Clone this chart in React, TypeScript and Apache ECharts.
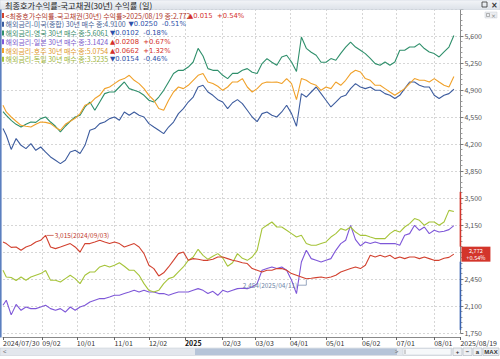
import React, { useEffect, useRef } from "react";
import * as echarts from "echarts";

// ---------- data ----------
const FIRST_DAY = "2024-07-30";
const TRADING_DAYS = 276; // weekdays 2024/07/30 .. 2025/08/19
const AXIS_PAD_DAYS = 4;
const SAMPLE_STEP = 3;

const TICK_DATES = [
  "2024/07/30", "2024/09/02", "2024/10/01", "2024/11/01", "2024/12/02", "2025/01/01",
  "2025/02/03", "2025/03/03", "2025/04/01", "2025/05/01", "2025/06/02", "2025/07/01", "2025/08/01",
];
const TICK_TEXTS = [
  "2024/07/30", "09/02", "10/01", "11/01", "12/02", "2025",
  "02/03", "03/03", "04/01", "05/01", "06/02", "07/01", "08/01",
];
const END_LABEL = "2025/08/19";
// right-axis labels (2,800 is covered by the last-value tag in the reference)
const Y_LABELS = [1750, 2100, 2450, 3150, 3500, 3850, 4200, 4550, 4900, 5250, 5600];

const TITLE = "최종호가수익률-국고채권(30년) 수익률 (일)";
const SERIES_NAMES = ["국고채권(30년)", "미국(종합) 30년", "영국 30년", "일본 30년", "호주 30년", "독일 30년"];
const LEGEND_TEXTS = [
  "<최종호가수익률-국고채권(30년) 수익률>2025/08/19 종:2.772",
  "해외금리-미국(종합) 30년 매수 종:4.9100",
  "해외금리-영국 30년 매수 종:5.6061",
  "해외금리-일본 30년 매수 종:3.1424",
  "해외금리-호주 30년 매수 종:5.0754",
  "해외금리-독일 30년 매수 종:3.3235",
];
const CHANGE_TEXTS = ["▲0.015  +0.54%", "▼0.0250  -0.51%", "▼0.0102  -0.18%", "▲0.0208  +0.67%", "▲0.0662  +1.32%", "▼0.0154  -0.46%"];
const LAST_VALUE = 2772;
const LAST_CHANGE = "+0.54%";
const PEAK_NOTE = "3,015(2024/09/03)";
const LOW_NOTE = "2,454(2025/04/11)";

// values (x1000) sampled every 3 weekdays
const KR = [
  2930, 2909, 2860, 2865, 2822, 2865, 2887, 2930, 2952, 3015,
  2865, 2844, 2865, 2887, 2909, 2865, 2800, 2909, 2909, 2930,
  2952, 2930, 2909, 2930, 2909, 2865, 2887, 2909, 2865, 2779,
  2628, 2585, 2490, 2530, 2606, 2692, 2779, 2800, 2692, 2714,
  2705, 2692, 2692, 2705, 2735, 2735, 2714, 2692, 2680, 2660,
  2650, 2585, 2563, 2541, 2563, 2563, 2585, 2585, 2563, 2520,
  2498, 2476, 2454, 2460, 2468, 2476, 2462, 2476, 2498, 2541,
  2563, 2585, 2606, 2585, 2628, 2757, 2735, 2757, 2735, 2757,
  2714, 2735, 2714, 2735, 2735, 2714, 2735, 2714, 2692, 2692,
  2718, 2730, 2772,
];
const US = [
  4400, 4313, 4130, 4270, 4183, 4140, 4205, 4118, 4161, 4096,
  4032, 3989, 3946, 3989, 4096, 4118, 4076, 4183, 4378, 4400,
  4464, 4485, 4529, 4550, 4507, 4615, 4572, 4615, 4572, 4550,
  4464, 4420, 4378, 4335, 4420, 4485, 4594, 4659, 4744, 4809,
  4939, 4961, 4874, 4831, 4775, 4744, 4659, 4735, 4775, 4724,
  4637, 4550, 4490, 4594, 4615, 4572, 4550, 4615, 4702, 4594,
  4430, 4853, 4809, 4874, 4939, 4853, 4767, 4680, 4744, 4809,
  4831, 4918, 4983, 4939, 4918, 4939, 4896, 4896, 4853, 4831,
  4789, 4831, 4918, 5004, 5004, 4961, 4939, 4939, 4831, 4789,
  4831, 4853, 4910,
];
const UK = [
  4620, 4572, 4507, 4455, 4420, 4455, 4485, 4480, 4529, 4550,
  4485, 4430, 4356, 4430, 4495, 4550, 4572, 4680, 4744, 4637,
  4744, 4853, 4874, 4874, 4939, 5004, 4918, 4896, 4874, 4831,
  4767, 4744, 4809, 4896, 5004, 5113, 5155, 5155, 5198, 5263,
  5440, 5340, 5177, 5155, 5155, 5091, 5048, 5115, 5115, 5155,
  5177, 5130, 5113, 5242, 5307, 5260, 5220, 5328, 5350, 5263,
  5140, 5587, 5440, 5390, 5350, 5260, 5260, 5307, 5285, 5375,
  5455, 5522, 5457, 5415, 5372, 5310, 5242, 5220, 5263, 5220,
  5263, 5415, 5415, 5457, 5457, 5501, 5437, 5393, 5372, 5328,
  5393, 5457, 5606,
];
const JP = [
  2109, 2174, 1985, 2120, 2044, 2087, 2066, 2066, 2087, 2109,
  2066, 2044, 2066, 2022, 2087, 2044, 2087, 2109, 2152, 2174,
  2196, 2196, 2217, 2239, 2239, 2261, 2281, 2303, 2281, 2303,
  2281, 2281, 2261, 2261, 2239, 2261, 2281, 2281, 2281, 2303,
  2325, 2303, 2261, 2290, 2239, 2303, 2281, 2303, 2325, 2330,
  2325, 2346, 2390, 2563, 2585, 2606, 2585, 2606, 2563, 2433,
  2261, 2670, 2822, 2714, 2692, 2670, 2692, 2714, 2822, 2909,
  2952, 3146, 2960, 2880, 2930, 2909, 2930, 2909, 2909, 2909,
  2909, 2887, 3016, 3038, 3146, 3081, 3124, 3038, 3081, 3059,
  3070, 3090, 3142,
];
const AU = [
  4702, 4615, 4550, 4495, 4442, 4430, 4420, 4455, 4485, 4480,
  4464, 4415, 4378, 4455, 4495, 4533, 4594, 4702, 4724, 4789,
  4831, 4918, 4939, 4983, 5026, 5048, 5091, 5026, 4983, 4918,
  4831, 4767, 4659, 4637, 4767, 4874, 4939, 4918, 4961, 5026,
  5091, 5113, 5004, 4983, 4948, 4896, 4939, 5004, 5004, 5048,
  4939, 4874, 4918, 4983, 5004, 5000, 5004, 4983, 5048, 4983,
  4775, 5048, 5026, 4983, 4961, 4896, 4939, 4918, 5004, 4961,
  5026, 5113, 5155, 5133, 5048, 5026, 4961, 4961, 4918, 4874,
  4831, 4874, 4918, 4983, 5048, 5026, 5026, 5004, 5048, 5004,
  4961, 4939, 5075,
];
const DE = [
  2563, 2476, 2470, 2430, 2476, 2433, 2476, 2498, 2520, 2560,
  2433, 2433, 2411, 2455, 2498, 2455, 2390, 2498, 2541, 2541,
  2606, 2628, 2606, 2628, 2660, 2615, 2563, 2563, 2498, 2390,
  2303, 2281, 2303, 2390, 2455, 2476, 2541, 2606, 2692, 2735,
  2835, 2757, 2705, 2745, 2779, 2725, 2615, 2660, 2779, 2718,
  2692, 2735, 2822, 3103, 3146, 3189, 3124, 3124, 3081, 3038,
  2994, 3016, 2909, 2887, 2887, 2909, 2930, 2994, 3038, 3103,
  3081, 3124, 3059, 3016, 3016, 2994, 2974, 2974, 2974, 3038,
  3081, 3059, 3124, 3168, 3233, 3211, 3146, 3189, 3189, 3146,
  3189, 3340, 3324,
];

// ---------- styles ----------
const COLORS = ["#d2412f", "#3d5c9e", "#2f8f6b", "#7e57d8", "#f0a12a", "#a6c43a"];
const TEXT_COLORS = ["#b0392e", "#4a6396", "#3b8c6d", "#7c5ccc", "#e0992e", "#9db438"];
const CHANGE_X = [188, 128.5, 110, 110, 110, 110];
const UP = "#d4302a";
const DOWN = "#2d4fa8";
const NARROW = '"Liberation Sans Narrow", "Noto Sans CJK KR", sans-serif';
const KFONT = '"Liberation Sans Narrow", "Noto Sans CJK KR", sans-serif';

function pad2(n: number) {
  return n < 10 ? "0" + n : "" + n;
}
function buildDates(): string[] {
  const out: string[] = [];
  const d = new Date(FIRST_DAY + "T00:00:00Z");
  while (out.length < TRADING_DAYS + AXIS_PAD_DAYS) {
    const wd = d.getUTCDay();
    if (wd !== 0 && wd !== 6) out.push(`${d.getUTCFullYear()}/${pad2(d.getUTCMonth() + 1)}/${pad2(d.getUTCDate())}`);
    d.setUTCDate(d.getUTCDate() + 1);
  }
  return out;
}
function sampleIdx(): number[] {
  const idx = [0];
  for (let k = 1; k * SAMPLE_STEP - 1 < TRADING_DAYS; k++) idx.push(k * SAMPLE_STEP - 1);
  return idx;
}

export default function App() {
  const ref = useRef<HTMLDivElement>(null);
  useEffect(() => {
    document.body.style.margin = "0";
    if (!ref.current) return;
    const chart = echarts.init(ref.current, null, { renderer: "svg" });
    const dates = buildDates();
    const lastIdx = dates.length - 1;
    const idx = sampleIdx();
    const mk = (arr: number[]) => arr.map((v, k) => [idx[k], v]);
    const seriesData = [KR, US, UK, JP, AU, DE];
    const isTick = (i: number, v: string) => TICK_DATES.indexOf(v) >= 0 || i === lastIdx;

    const series: any[] = seriesData.map((arr, s) => ({
      name: SERIES_NAMES[s],
      type: "line",
      data: mk(arr),
      showSymbol: false,
      symbol: "none",
      lineStyle: { width: 1.1, color: COLORS[s] },
      itemStyle: { color: COLORS[s] },
      z: s === 0 ? 10 : 3 + s,
    }));

    chart.setOption({
      animation: false,
      backgroundColor: "#ffffff",
      grid: { left: 2.3, right: 32.3, top: 9, bottom: 26 },
      xAxis: {
        type: "category",
        data: dates,
        boundaryGap: false,
        offset: 4,
        axisLine: { lineStyle: { color: "#8a8a8a", width: 1 } },
        axisTick: { show: true, length: 3, interval: isTick, lineStyle: { color: "#666" } },
        axisLabel: {
          interval: isTick,
          align: "left",
          margin: 2,
          fontSize: 7,
          fontFamily: NARROW,
          color: "#333",
          formatter: (v: string, i: number) => {
            if (i === lastIdx) return END_LABEL;
            const j = TICK_DATES.indexOf(v);
            if (j < 0) return "";
            return TICK_TEXTS[j] === "2025" ? "{b|2025}" : TICK_TEXTS[j];
          },
          rich: { b: { fontWeight: "bold", fontSize: 7, fontFamily: NARROW, color: "#111" } },
        },
        splitLine: {
          show: true,
          interval: (i: number, v: string) => TICK_DATES.indexOf(v) > 0,
          lineStyle: { color: "#d6d6d6", type: [2, 2], width: 1 },
        },
      },
      yAxis: {
        type: "value",
        position: "right",
        min: 1750,
        max: 5950,
        interval: 350,
        axisLine: { show: true, lineStyle: { color: "#8a8a8a" } },
        axisTick: { show: true, length: 3, lineStyle: { color: "#777" } },
        minorTick: { show: true, splitNumber: 5, length: 2, lineStyle: { color: "#999" } },
        axisLabel: {
          customValues: Y_LABELS,
          margin: 4,
          fontSize: 7,
          fontFamily: NARROW,
          color: "#555",
          formatter: (v: number) => v.toLocaleString("en-US"),
        },
        splitLine: { show: true, lineStyle: { color: "#d6d6d6", type: [2, 2], width: 1 } },
      },
      series: [...series.slice(1), series[0]],
    });

    const yPx = (v: number) => chart.convertToPixel({ yAxisIndex: 0 }, v) as number;
    const xPx = (i: number) => chart.convertToPixel({ xAxisIndex: 0 }, i) as number;
    const axisX = xPx(lastIdx);
    const yLast = yPx(LAST_VALUE);
    const peakK = KR.indexOf(Math.max(...KR));
    const lowK = KR.indexOf(Math.min(...KR));
    const xPeak = xPx(idx[peakK]);
    const yPeak = yPx(KR[peakK]);
    const xLow = xPx(idx[lowK]);
    const yLow = yPx(KR[lowK]);

    const g: any[] = [];
    // title bar
    g.push({
      type: "rect", z: 100,
      shape: { x: 0, y: 0, width: 500, height: 9.5 },
      style: {
        fill: new echarts.graphic.LinearGradient(0, 0, 0, 1, [
          { offset: 0, color: "#f3f5f8" }, { offset: 1, color: "#dde2e9" },
        ]),
        stroke: "#c3cad4", lineWidth: 0.5,
      },
    });
    g.push({ type: "text", z: 101, x: 5, y: 5, style: { text: TITLE, fill: "#222", fontSize: 8.2, fontFamily: KFONT, verticalAlign: "middle" } });
    g.push({ type: "rect", z: 101, shape: { x: 482, y: 2, width: 5, height: 5 }, style: { fill: "none", stroke: "#333", lineWidth: 0.8 } });
    g.push({ type: "text", z: 101, x: 491, y: 5, style: { text: "×", fill: "#333", fontSize: 8, fontFamily: "DejaVu Sans", verticalAlign: "middle", fontWeight: "bold" } });
    g.push({ type: "rect", z: 101, shape: { x: 485, y: 12, width: 12, height: 6 }, style: { fill: "#eceef1", stroke: "#c9ced6", lineWidth: 0.5 } });
    g.push({ type: "rect", z: 102, shape: { x: 486.5, y: 13.5, width: 3, height: 3 }, style: { fill: "none", stroke: "#888", lineWidth: 0.6 } });
    g.push({ type: "text", z: 102, x: 491, y: 15, style: { text: "×", fill: "#888", fontSize: 6, fontFamily: "DejaVu Sans", verticalAlign: "middle" } });
    // left edge
    g.push({ type: "rect", z: 100, shape: { x: 0, y: 9.5, width: 1.6, height: 328 }, style: { fill: "#5b7fbf" } });

    // legend lines
    LEGEND_TEXTS.forEach((t, n) => {
      const y = 15.5 + n * 8.75;
      g.push({ type: "rect", z: 100, shape: { x: 2, y: y - 2.5, width: 2, height: 5 }, style: { fill: COLORS[n] } });
      g.push({ type: "text", z: 100, x: 5.5, y, style: { text: t, fill: TEXT_COLORS[n], fontSize: 7, fontFamily: KFONT, verticalAlign: "middle" } });
      const up = CHANGE_TEXTS[n].charAt(0) === "▲";
      g.push({ type: "text", z: 100, x: CHANGE_X[n], y, style: { text: CHANGE_TEXTS[n], fill: up ? UP : DOWN, fontSize: 6.8, fontFamily: '"Liberation Sans Narrow", "DejaVu Sans", sans-serif', verticalAlign: "middle" } });
    });

    // annotations
    g.push({ type: "line", z: 50, shape: { x1: xPeak + 1, y1: yPeak, x2: xPeak + 8, y2: yPeak }, style: { stroke: "#c0392b", lineWidth: 0.7 } });
    g.push({ type: "text", z: 50, x: xPeak + 9, y: yPeak, style: { text: PEAK_NOTE, fill: "#c0392b", fontSize: 6.5, fontFamily: NARROW, verticalAlign: "middle" } });
    const lowTextEnd = xLow - 9;
    g.push({ type: "text", z: 50, x: lowTextEnd, y: yLow + 6.5, style: { text: LOW_NOTE, fill: "#6d83a6", fontSize: 6.5, fontFamily: NARROW, align: "right", verticalAlign: "middle" } });
    g.push({ type: "polyline", z: 50, shape: { points: [[lowTextEnd + 0.5, yLow + 6.5], [xLow, yLow + 6.5], [xLow, yLow + 1]] }, style: { stroke: "#6d83a6", lineWidth: 0.7, fill: "none" } });

    // axis range bars + last value tag
    const half = 7.5;
    g.push({ type: "rect", z: 60, shape: { x: axisX - 0.8, y: yPx(3580), width: 1.6, height: yLast - half - yPx(3580) }, style: { fill: "#d3352b" } });
    g.push({ type: "rect", z: 60, shape: { x: axisX - 0.8, y: yLast + half, width: 1.6, height: yPx(1790) - yLast - half }, style: { fill: "#3a63b0" } });
    g.push({ type: "rect", z: 61, shape: { x: axisX + 1, y: yLast - half, width: 29, height: half * 2 }, style: { fill: "#d3352b" } });
    g.push({ type: "text", z: 62, x: axisX + 15.5, y: yLast - 0.8, style: { text: LAST_VALUE.toLocaleString("en-US"), fill: "#ffffff", fontSize: 5.6, fontFamily: NARROW, align: "center", verticalAlign: "bottom" } });
    g.push({ type: "text", z: 62, x: axisX + 15.5, y: yLast + 0.8, style: { text: LAST_CHANGE, fill: "#ffffff", fontSize: 5.6, fontFamily: NARROW, align: "center", verticalAlign: "top" } });

    // scrollbar and buttons
    g.push({ type: "rect", z: 100, shape: { x: 0, y: 348, width: 452, height: 7.5 }, style: { fill: "#e3e7ed", stroke: "#c2c9d3", lineWidth: 0.5 } });
    g.push({ type: "rect", z: 101, shape: { x: 195, y: 348.5, width: 202, height: 6.5 }, style: { fill: "#b6c4d8" } });
    g.push({ type: "rect", z: 101, shape: { x: 403, y: 348.5, width: 48, height: 6.5 }, style: { fill: "#f6f8fa", stroke: "#c2c9d3", lineWidth: 0.5 } });
    g.push({ type: "text", z: 102, x: 3, y: 351.8, style: { text: "<", fill: "#666", fontSize: 6, fontFamily: NARROW, verticalAlign: "middle" } });
    g.push({ type: "text", z: 102, x: 395, y: 351.8, style: { text: ">", fill: "#666", fontSize: 6, fontFamily: NARROW, verticalAlign: "middle" } });
    g.push({ type: "line", z: 102, shape: { x1: 405, y1: 349.5, x2: 405, y2: 354 }, style: { stroke: "#888", lineWidth: 0.7 } });
    const btns = [["+", 453, 9], ["−", 463, 9], ["a", 473, 9], ["MAX", 483, 16]];
    btns.forEach(([t, x, w]) => {
      g.push({ type: "rect", z: 101, shape: { x: x as number, y: 348, width: w as number, height: 7.5 }, style: { fill: "#eef0f3", stroke: "#aab2bd", lineWidth: 0.6 } });
      g.push({ type: "text", z: 102, x: (x as number) + (w as number) / 2, y: 351.9, style: { text: t as string, fill: "#333", fontSize: 6, fontWeight: "bold", fontFamily: '"Liberation Sans", sans-serif', align: "center", verticalAlign: "middle" } });
    });

    chart.setOption({ graphic: g });
    return () => chart.dispose();
  }, []);
  return <div ref={ref} style={{ width: 500, height: 359 }} />;
}
